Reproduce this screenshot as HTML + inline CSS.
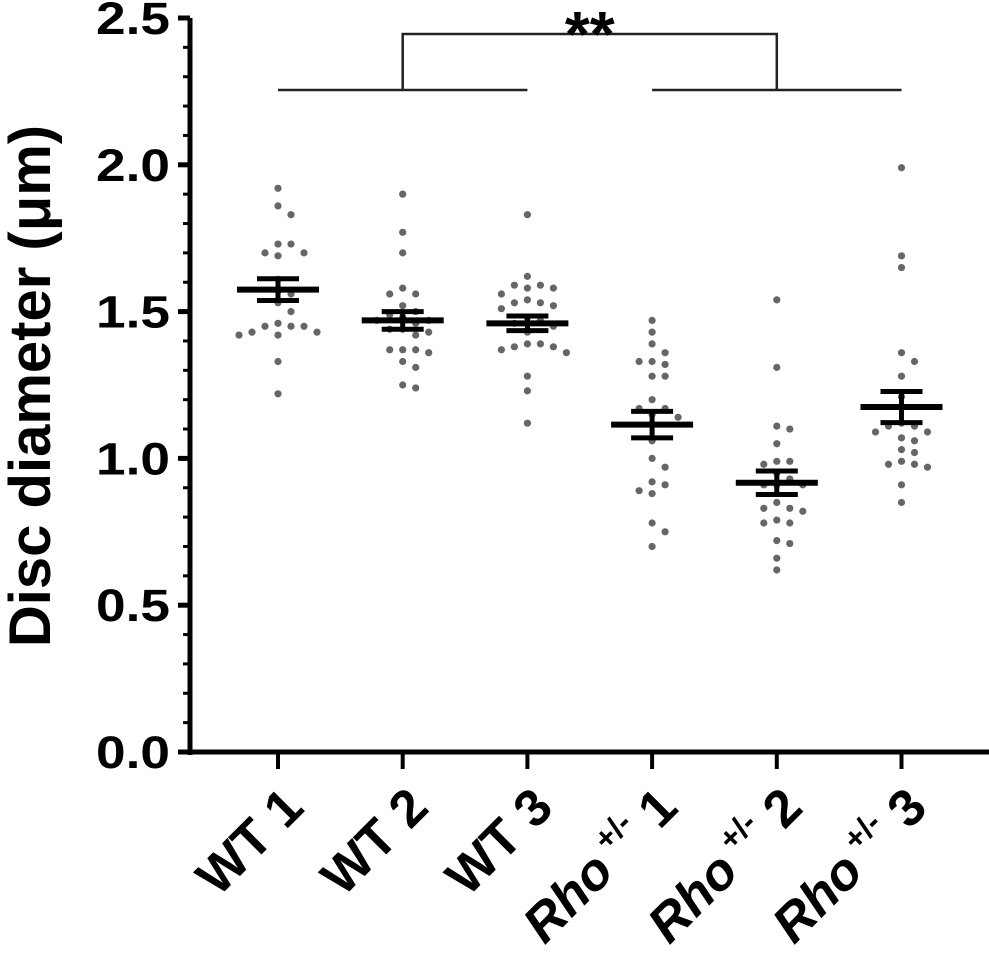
<!DOCTYPE html>
<html><head><meta charset="utf-8"><style>
html,body{margin:0;padding:0;background:#fff;}
svg{display:block;font-family:"Liberation Sans",Arial,sans-serif;}
</style></head><body>
<svg id="chart" width="989" height="953" viewBox="0 0 989 953" xmlns="http://www.w3.org/2000/svg"></svg>
<script>
const categories = ["WT 1","WT 2","WT 3","Rho 1","Rho 2","Rho 3"];
const wt1 = [1.92,1.86,1.83,1.73,1.73,1.70,1.70,1.69,1.61,1.57,1.56,1.53,1.50,1.46,1.45,1.45,1.45,1.43,1.43,1.42,1.42,1.33,1.22];
const wt2 = [1.90,1.77,1.70,1.58,1.56,1.56,1.52,1.50,1.49,1.48,1.47,1.47,1.46,1.44,1.44,1.43,1.42,1.37,1.37,1.37,1.36,1.33,1.31,1.25,1.24];
const wt3 = [1.83,1.62,1.59,1.59,1.58,1.58,1.56,1.54,1.53,1.53,1.52,1.51,1.48,1.47,1.46,1.45,1.43,1.39,1.39,1.38,1.38,1.37,1.36,1.28,1.23,1.12];
const rho1 = [1.47,1.43,1.39,1.36,1.33,1.33,1.32,1.28,1.28,1.20,1.17,1.17,1.15,1.14,1.06,1.00,0.97,0.92,0.91,0.89,0.88,0.78,0.75,0.70];
const rho2 = [1.54,1.31,1.11,1.10,1.05,0.99,0.99,0.98,0.95,0.93,0.91,0.91,0.91,0.85,0.83,0.83,0.82,0.79,0.78,0.78,0.72,0.71,0.66,0.62];
const rho3 = [1.99,1.69,1.65,1.36,1.33,1.28,1.21,1.12,1.11,1.11,1.09,1.09,1.07,1.06,1.03,1.02,0.99,0.98,0.98,0.97,0.91,0.85];
const means = [1.575,1.47,1.46,1.115,0.917,1.175];
const sems = [0.037,0.03,0.025,0.045,0.04,0.053];
const yTicks = [0.0,0.5,1.0,1.5,2.0,2.5];
const yTickLabels = ["0.0","0.5","1.0","1.5","2.0","2.5"];

const NS="http://www.w3.org/2000/svg";
const svg=document.getElementById('chart');
function el(tag,attrs,parent){const e=document.createElementNS(NS,tag);for(const k in attrs)e.setAttribute(k,attrs[k]);(parent||svg).appendChild(e);return e;}
const y0=752,yTop=18,vMax=2.5;
function yScale(v){return y0-(v/vMax)*(y0-yTop);}
function xScale(i){return 278+i*124.7;}

const yAxis=el('line',{x1:190,y1:yTop,x2:190,y2:y0+3,stroke:'#000','stroke-width':5});


const xAxis=el('line',{x1:180,y1:y0,x2:989,y2:y0,stroke:'#000','stroke-width':5});


for(let m=1;m<25;m++){
  if(m%5===0)continue;
  const t=el('line',{x1:183,y1:yScale(m/10),x2:190,y2:yScale(m/10),stroke:'#000','stroke-width':3});
  
  
}
yTicks.forEach((v,i)=>{
  const t=el('line',{x1:178,y1:yScale(v),x2:190,y2:yScale(v),stroke:'#000','stroke-width':5});
  
  
  const l=el('text',{x:170,y:yScale(v)+16,'text-anchor':'end','font-size':45,'font-weight':'bold',textLength:74,lengthAdjust:'spacingAndGlyphs'});
  l.textContent=yTickLabels[i];
  
  
});
const yt=el('text',{x:0,y:0,'text-anchor':'middle','font-size':58,'font-weight':'bold',transform:'translate(50,386) rotate(-90)'});
yt.textContent='Disc diameter (μm)';



categories.forEach((c,i)=>{
  const x=xScale(i);
  const t=el('line',{x1:x,y1:y0,x2:x,y2:y0+17,stroke:'#000','stroke-width':4});
  
  
  const l=el('text',{x:0,y:0,'text-anchor':'end','font-size':52,'font-weight':'bold',transform:`translate(${x+28},${y0+58}) rotate(-45)`});
  
  
  if(c.startsWith('Rho')){
    const a=el('tspan',{'font-style':'italic'},l);a.textContent='Rho';
    const b=el('tspan',{dy:-22,'font-size':32},l);b.textContent=' +/-';
    const d=el('tspan',{dy:22},l);d.textContent=' '+c.split(' ')[1];
  } else l.textContent=c;
});

const groups=[wt1,wt2,wt3,rho1,rho2,rho3];
groups.forEach((vals,gi)=>{
  const cx=xScale(gi);const placed=[];
  const sorted=vals.slice().sort((a,b)=>b-a);
  sorted.forEach(v=>{
    const py=yScale(v);
    const offs=[0,13,-13,26,-26,39,-39];
    let px=cx;
    for(const o of offs){
      const ok=placed.every(p=>Math.hypot(p[0]-(cx+o),p[1]-py)>=10);
      if(ok){px=cx+o;break;}
    }
    placed.push([px,py]);
    const c=el('circle',{cx:px,cy:py,r:3.6,fill:'#666'});
    
    
  });
  const m=means[gi],s=sems[gi];
  const ml=el('line',{x1:cx-41,x2:cx+41,y1:yScale(m),y2:yScale(m),stroke:'#000','stroke-width':6});
  
  
  const vl=el('line',{x1:cx,x2:cx,y1:yScale(m+s),y2:yScale(m-s),stroke:'#000','stroke-width':5});
  
  
  [m+s,m-s].forEach(v=>{
    const cap=el('line',{x1:cx-21,x2:cx+21,y1:yScale(v),y2:yScale(v),stroke:'#000','stroke-width':5});
    
    
  });
});

const g=el('g',{stroke:'#222','stroke-width':2.5,fill:'none'});


el('line',{x1:xScale(0),x2:xScale(2),y1:90,y2:90},g);
el('line',{x1:xScale(3),x2:xScale(5),y1:90,y2:90},g);
el('polyline',{points:`${xScale(1)},90 ${xScale(1)},34 ${xScale(4)},34 ${xScale(4)},90`},g);
const st=el('text',{x:(xScale(1)+xScale(4))/2,y:56,'text-anchor':'middle','font-size':64,'font-weight':'bold'});
st.textContent='**';


</script>
</body></html>
